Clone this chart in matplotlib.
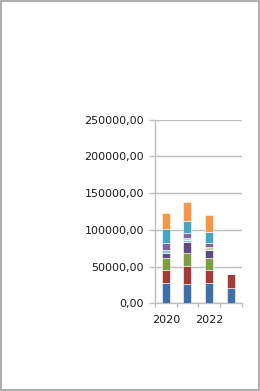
import matplotlib
matplotlib.use('Agg')
from matplotlib import pyplot as plt
from matplotlib.patches import Rectangle
from matplotlib.ticker import FuncFormatter
import numpy as np

# categories (years)
years = ['2020', '2021', '2022', '2023']
tick_labels = ['2020', '', '2022', '']

# stacked series, bottom to top
blue = [27000, 25600, 27400, 20500]
red = [17700, 25200, 17600, 19500]
green = [16400, 17700, 16400, 0]
dark_purple = [6800, 14600, 10600, 0]
light_aqua = [4100, 2600, 0, 0]
light_green = [0, 2600, 4100, 0]
purple = [9500, 7800, 5500, 0]
aqua = [19100, 16400, 15300, 0]
orange = [22500, 25600, 23600, 0]

series = [blue, red, green, dark_purple, light_aqua, light_green, purple, aqua, orange]
colors = ['#3F6FA8', '#A33B39', '#7F9C45', '#5F4A82', '#7FC4D6', '#C3D69B',
          '#8064A2', '#45A6C2', '#F79646']

fig = plt.figure(figsize=(2.6, 3.91), dpi=100)
ax = fig.add_axes([0.596, 0.2243, 0.3336, 0.47])

x = np.arange(len(years))
bottom = np.zeros(len(years))
for vals, c in zip(series, colors):
    vals = np.array(vals, dtype=float)
    ax.bar(x, vals, width=0.37, bottom=bottom, color=c, edgecolor='white',
           linewidth=0.4, zorder=3)
    bottom += vals

ax.set_xlim(-0.5, len(years) - 0.5)
ax.set_ylim(0, 250000)
ax.set_yticks(np.arange(0, 250001, 50000))
ax.yaxis.set_major_formatter(FuncFormatter(lambda v, p: '{:.2f}'.format(v).replace('.', ',')))
ax.yaxis.grid(True, color='#BEBEBE', linewidth=1, zorder=0)

ax.set_xticks(x)
ax.set_xticklabels(tick_labels)
ax.set_xticks(np.arange(-0.5, len(years), 1), minor=True)
ax.tick_params(axis='x', which='major', length=0, pad=8.5, labelsize=8, labelcolor='#1A1A1A')
ax.tick_params(axis='x', which='minor', length=3, color='#BEBEBE', width=1)
ax.tick_params(axis='y', length=4, color='#BEBEBE', width=1, pad=4, labelsize=8, labelcolor='#1A1A1A')

for s in ['top', 'right']:
    ax.spines[s].set_visible(False)
for s in ['left', 'bottom']:
    ax.spines[s].set_color('#BEBEBE')
    ax.spines[s].set_linewidth(1)

fig.patches.append(Rectangle((0.002, 0.002), 0.994, 0.995, transform=fig.transFigure,
                             fill=False, edgecolor='#A0A0A0', linewidth=1.2))

fig.savefig('out.png', dpi=100)
